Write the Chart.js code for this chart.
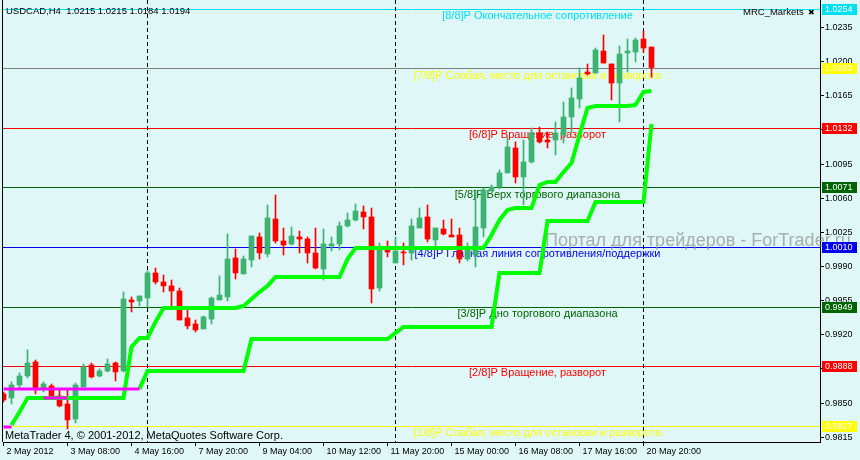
<!DOCTYPE html>
<html>
<head>
<meta charset="utf-8">
<script src="https://cdn.jsdelivr.net/npm/chart.js@4.4.1/dist/chart.umd.min.js"></script>
<style>
html, body { margin: 0; padding: 0; background: #E0F7F7; }
canvas { display: block; }
</style>
</head>
<body>
<canvas id="chart" width="860" height="460"></canvas>
<script>
// USDCAD H4 candles, one entry per bar (index 0 = 2 May 2012 00:00)
const opens = [0.98594, 0.98553, 0.98686, 0.98778, 0.98922, 0.98645, 0.98676, 0.98573, 0.98491, 0.98337,
    0.98665, 0.98891, 0.98778, 0.98829, 0.98911, 0.98829, 0.99557, 0.99547, 0.99578, 0.99834,
    0.99742, 0.99701, 0.99649, 0.99373, 0.99311, 0.99260, 0.99362, 0.99557, 0.99588, 0.99988,
    0.99824, 0.99967, 1.00203, 1.00029, 1.00387, 1.00162, 1.00131, 1.00203, 1.00182, 1.00039,
    0.99875, 1.00111, 1.00131, 1.00316, 1.00377, 1.00459, 1.00408, 0.99680, 1.00100, 0.99936,
    1.00049, 1.00039, 1.00295, 1.00408, 1.00172, 1.00285, 1.00223, 1.00223, 0.99977, 1.00018,
    1.00295, 1.00674, 1.00715, 1.00859, 1.01115, 1.00818, 1.00972, 1.01269, 1.01197, 1.01197,
    1.01248, 1.01433, 1.01617, 1.01894, 1.01884, 1.02109, 1.01976, 1.01781, 1.02089, 1.02099,
    1.02232, 1.0215];
const highs = [0.98614, 0.98717, 0.98809, 0.99045, 0.98942, 0.98717, 0.98696, 0.98635, 0.98645, 0.98706,
    0.98901, 0.98911, 0.98850, 0.98952, 0.98922, 0.99639, 0.99588, 0.99598, 0.99854, 0.99885,
    0.99813, 0.99762, 0.99680, 0.99475, 0.99352, 0.99393, 0.99588, 0.99803, 1.00234, 1.00080,
    1.00008, 1.00213, 1.00244, 1.00531, 1.00633, 1.00295, 1.00305, 1.00264, 1.00203, 1.00295,
    1.00285, 1.00203, 1.00357, 1.00449, 1.00541, 1.00521, 1.00500, 1.00141, 1.00162, 1.00203,
    1.00141, 1.00387, 1.00500, 1.00531, 1.00295, 1.00377, 1.00387, 1.00295, 1.00141, 1.00685,
    1.00705, 1.00736, 1.00890, 1.01228, 1.01177, 1.01197, 1.01320, 1.01330, 1.01279, 1.01382,
    1.01587, 1.01730, 1.01935, 1.01976, 1.02140, 1.02273, 1.01976, 1.02161, 1.02232, 1.02243,
    1.02314, 1.0215];
const lows = [0.98512, 0.98491, 0.98645, 0.98758, 0.98594, 0.98614, 0.98563, 0.98460, 0.98235, 0.98296,
    0.98665, 0.98758, 0.98768, 0.98819, 0.98727, 0.98819, 0.99434, 0.99496, 0.99485, 0.99721,
    0.99639, 0.99485, 0.99352, 0.99260, 0.99229, 0.99260, 0.99311, 0.99557, 0.99547, 0.99772,
    0.99824, 0.99895, 0.99977, 0.99998, 1.00141, 1.00018, 1.00121, 1.00039, 0.99936, 0.99875,
    0.99762, 1.00059, 1.00070, 1.00305, 1.00367, 1.00285, 0.99526, 0.99649, 0.99998, 0.99936,
    0.99916, 0.99967, 1.00295, 1.00152, 1.00111, 1.00223, 1.00203, 0.99936, 0.99957, 0.99895,
    1.00203, 1.00674, 1.00695, 1.00859, 1.00756, 1.00531, 1.00961, 1.01166, 1.01115, 1.01043,
    1.01166, 1.01269, 1.01525, 1.01863, 1.01884, 1.01986, 1.01607, 1.01382, 1.01894, 1.01997,
    1.02099, 1.0184];
const closes = [0.98532, 0.98686, 0.98778, 0.98911, 0.98645, 0.98696, 0.98573, 0.98471, 0.98327, 0.98686,
    0.98870, 0.98768, 0.98829, 0.98901, 0.98819, 0.99567, 0.99537, 0.99598, 0.99834, 0.99742,
    0.99701, 0.99649, 0.99352, 0.99291, 0.99250, 0.99383, 0.99578, 0.99608, 0.99977, 0.99834,
    0.99977, 1.00213, 1.00039, 1.00398, 1.00162, 1.00121, 1.00213, 1.00182, 1.00039, 0.99885,
    1.00131, 1.00131, 1.00316, 1.00377, 1.00469, 1.00408, 0.99670, 1.00100, 1.00049, 1.00059,
    1.00039, 1.00316, 1.00398, 1.00182, 1.00295, 1.00234, 1.00203, 0.99977, 1.00070, 1.00305,
    1.00685, 1.00715, 1.00859, 1.01125, 1.00818, 1.00972, 1.01269, 1.01177, 1.01177, 1.01269,
    1.01433, 1.01628, 1.01833, 1.01874, 1.02120, 1.01986, 1.01781, 1.02079, 1.02109, 1.02222,
    1.02140, 1.0194];

// Trailing stop lines (lime) and the magenta segments
const trendUpper = [null, 0.98276, 0.98409, 0.98553, 0.98553, 0.98553, 0.98553, 0.98553, 0.98553, 0.98553,
    0.98553, 0.98553, 0.98553, 0.98553, 0.98553, 0.98553, 0.99075, 0.99168, 0.99168, 0.99332,
    0.99475, 0.99475, 0.99475, 0.99475, 0.99475, 0.99475, 0.99475, 0.99475, 0.99475, 0.99475,
    0.99496, 0.99567, 0.99639, 0.99701, 0.99793, 0.99793, 0.99793, 0.99793, 0.99793, 0.99793,
    0.99793, 0.99793, 0.99793, 0.99977, 1.0009, 1.0009, 1.0009, 1.0009, 1.0009, 1.0009,
    1.0009, 1.0009, 1.0009, 1.0009, 1.0009, 1.0009, 1.0009, 1.0009, 1.0009, 1.0009,
    1.0009, 1.00223, 1.00377, 1.0048, 1.0050, 1.0050, 1.0050, 1.00736, 1.00767, 1.00767,
    1.00869, 1.00961, 1.01248, 1.01525, 1.01546, 1.01546, 1.01546, 1.01546, 1.01546, 1.01556,
    1.01689, 1.01699];
const trendLower = [null, null, null, null, null, null, null, null, null, null,
    null, null, null, null, null, null, null, 0.98645, 0.98829, 0.98829,
    0.98829, 0.98829, 0.98829, 0.98829, 0.98829, 0.98829, 0.98829, 0.98829, 0.98829, 0.98829,
    0.98829, 0.99157, 0.99157, 0.99157, 0.99157, 0.99157, 0.99157, 0.99157, 0.99157, 0.99157,
    0.99157, 0.99157, 0.99157, 0.99157, 0.99157, 0.99157, 0.99157, 0.99157, 0.99157, 0.99219,
    0.99280, 0.99280, 0.99280, 0.99280, 0.99280, 0.99280, 0.99280, 0.99280, 0.99280, 0.99280,
    0.99280, 0.99280, 0.99834, 0.99834, 0.99834, 0.99834, 0.99834, 0.99834, 1.00367, 1.00367,
    1.00367, 1.00367, 1.00367, 1.00367, 1.00562, 1.00562, 1.00562, 1.00562, 1.00562, 1.00562,
    1.00562, 1.01361];
const magentaTop = [0.98645, 0.98645, 0.98645, 0.98645, 0.98645, 0.98645, 0.98645, 0.98645, 0.98645,
    0.98645, 0.98645, 0.98645, 0.98645, 0.98645, 0.98645, 0.98645, 0.98645, 0.98645];
const magentaMid = [null, null, null, null, null, 0.98553, 0.98553, 0.98553, 0.98553];
const magentaLow = [0.98255, 0.98255];

// Axis ticks
const timeTickBars = [0, 8, 16, 24, 32, 40, 48, 56, 64, 72, 80];
const timeTickLabels = ['2 May 2012', '3 May 08:00', '4 May 16:00', '7 May 20:00', '9 May 04:00',
    '10 May 12:00', '11 May 20:00', '15 May 00:00', '16 May 08:00', '17 May 16:00', '20 May 20:00'];
const priceTicks = ['0.9815', '0.9850', '0.9885', '0.9920', '0.9955', '0.9990', '1.0025',
    '1.0060', '1.0095', '1.0130', '1.0165', '1.0200', '1.0235'];

// Murrey Math levels
const levelValues = [1.0254, 1.0193, 1.0132, 1.0071, 1.0010, 0.9949, 0.9888, 0.9827];
const levelTexts = [
    '[8/8]P Окончательное сопротивление',
    '[7/8]P Слабая, место для остановки и разворота',
    '[6/8]P Вращение, разворот',
    '[5/8]P Верх торгового диапазона',
    '[4/8]P Главная линия сопротивления/поддержки',
    '[3/8]P Дно торгового диапазона',
    '[2/8]P Вращение, разворот',
    '[1/8]P Слабая, место для остановки и разворота'
];
const levelColors = ['#00E0F4', '#FFFF00', '#FF0000', '#006400', '#0000EE', '#006400', '#FF0000', '#FFFF00'];
const bidPrice = 1.0194;
const separatorBars = [18, 49, 80];

const BG = '#E0F7F7';
const FONT = '"Liberation Sans", Arial, sans-serif';

const barIndex = opens.map((_, i) => i);
const candleColors = barIndex.map(i => closes[i] >= opens[i] ? '#3CB371' : '#FF0000');
const toPoints = arr => arr.map((v, i) => ({ x: i, y: v }));

function lineSet(values, color, width, order) {
    return {
        type: 'line',
        data: toPoints(values),
        borderColor: color,
        borderWidth: width,
        pointRadius: 0,
        fill: false,
        tension: 0,
        spanGaps: false,
        order: order
    };
}

const mt4Plugin = {
    id: 'mt4',
    beforeDraw(chart) {
        const ctx = chart.ctx;
        ctx.save();
        ctx.fillStyle = BG;
        ctx.fillRect(0, 0, chart.width, chart.height);
        ctx.restore();
    },
    beforeDatasetsDraw(chart) {
        const { ctx, chartArea: area, scales: { x, y } } = chart;
        ctx.save();
        ctx.lineWidth = 1;

        // level lines
        levelValues.forEach((v, k) => {
            const py = Math.round(y.getPixelForValue(v)) + 0.5;
            ctx.strokeStyle = levelColors[k];
            ctx.beginPath();
            ctx.moveTo(area.left, py);
            ctx.lineTo(area.right, py);
            ctx.stroke();
        });

        // bid line
        const by = Math.round(y.getPixelForValue(bidPrice)) + 0.5;
        ctx.strokeStyle = '#808080';
        ctx.beginPath();
        ctx.moveTo(area.left, by);
        ctx.lineTo(area.right, by);
        ctx.stroke();

        // period separators
        ctx.strokeStyle = '#000';
        ctx.setLineDash([4, 3]);
        separatorBars.forEach(b => {
            const px = Math.floor(x.getPixelForValue(b)) + 0.5;
            ctx.beginPath();
            ctx.moveTo(px, area.top);
            ctx.lineTo(px, area.bottom);
            ctx.stroke();
        });
        ctx.setLineDash([]);

        // level captions
        ctx.font = '11px ' + FONT;
        ctx.textAlign = 'center';
        ctx.textBaseline = 'middle';
        const cx = x.getPixelForValue(66.75);
        levelValues.forEach((v, k) => {
            ctx.fillStyle = levelColors[k];
            ctx.fillText(levelTexts[k], cx, y.getPixelForValue(v) + 7);
        });

        // watermark
        ctx.font = '18px ' + FONT;
        ctx.textAlign = 'left';
        ctx.textBaseline = 'alphabetic';
        ctx.fillStyle = 'rgba(150, 150, 150, 0.75)';
        ctx.fillText('Портал для трейдеров - ForTrader.ru', 545, 246);
        ctx.restore();
    },
    afterDatasetsDraw(chart) {
        const { ctx, chartArea: area, scales: { y } } = chart;
        ctx.save();

        // price boxes on the right scale
        ctx.font = '9px ' + FONT;
        ctx.textAlign = 'left';
        ctx.textBaseline = 'middle';
        levelValues.forEach((v, k) => {
            const py = Math.round(y.getPixelForValue(v));
            ctx.fillStyle = levelColors[k];
            ctx.fillRect(area.right + 2, py - 5, 35, 11);
            ctx.fillStyle = '#FFFFFF';
            ctx.fillText(v.toFixed(4), area.right + 5, py + 0.5);
        });

        // left frame
        ctx.fillStyle = '#000';
        ctx.fillRect(area.left - 1, area.top, 1, area.bottom - area.top);

        // header and footer texts
        const last = opens.length - 1;
        ctx.textBaseline = 'alphabetic';
        ctx.font = '9.5px ' + FONT;
        ctx.fillText('USDCAD,H4  ' + opens[last].toFixed(4) + ' ' + highs[last].toFixed(4) + ' ' +
            lows[last].toFixed(4) + ' ' + closes[last].toFixed(4), 6, 14);
        ctx.fillText('MRC_Markets', 743, 15);
        ctx.font = '8px "DejaVu Sans"';
        ctx.fillText('✖', 808, 15);
        ctx.font = '11px ' + FONT;
        ctx.fillText('MetaTrader 4, © 2001-2012, MetaQuotes Software Corp.', 5, 439);
        ctx.restore();
    }
};

const axisGrid = {
    display: true,
    drawOnChartArea: false,
    drawTicks: true,
    tickLength: 4,
    color: '#000',
    tickColor: '#000',
    offset: false
};

new Chart(document.getElementById('chart'), {
    type: 'bar',
    data: {
        datasets: [
            lineSet(magentaTop, '#FF00FF', 3, 0),
            lineSet(magentaMid, '#FF00FF', 3, 0),
            lineSet(magentaLow, '#FF00FF', 3, 0),
            lineSet(trendUpper, '#00FF00', 4, 1),
            lineSet(trendLower, '#00FF00', 4, 1),
            {
                data: barIndex.map(i => ({ x: i, y: [opens[i], closes[i]] })),
                backgroundColor: candleColors,
                borderWidth: 0,
                barThickness: 5,
                minBarLength: 1,
                grouped: false,
                order: 2
            },
            {
                data: barIndex.map(i => ({ x: i, y: [lows[i], highs[i]] })),
                backgroundColor: candleColors,
                borderWidth: 0,
                barThickness: 1,
                grouped: false,
                order: 3
            }
        ]
    },
    options: {
        responsive: false,
        animation: false,
        layout: { padding: { left: 3, right: 0, top: 0, bottom: 0 } },
        plugins: {
            legend: { display: false },
            tooltip: { enabled: false }
        },
        scales: {
            x: {
                type: 'linear',
                min: -0.0625,
                max: 102.0625,
                offset: false,
                grid: axisGrid,
                border: { display: true, color: '#000', width: 1 },
                ticks: {
                    autoSkip: false,
                    maxRotation: 0,
                    align: 'start',
                    labelOffset: 3,
                    padding: 0,
                    color: '#000',
                    font: { family: FONT, size: 9 },
                    callback: (value, index) => timeTickLabels[index]
                },
                afterBuildTicks: scale => {
                    scale.ticks = timeTickBars.map(v => ({ value: v }));
                },
                afterFit: scale => {
                    scale.height = 18;
                    scale.paddingLeft = 0;
                    scale.paddingRight = 0;
                }
            },
            y: {
                position: 'right',
                min: 0.98101,
                max: 1.02632,
                grid: axisGrid,
                border: { display: true, color: '#000', width: 1 },
                ticks: {
                    padding: 1,
                    color: '#000',
                    font: { family: FONT, size: 9 },
                    callback: (value, index) => priceTicks[index]
                },
                afterBuildTicks: scale => {
                    scale.ticks = priceTicks.map(t => ({ value: parseFloat(t) }));
                },
                afterFit: scale => {
                    scale.width = 40;
                    scale.paddingTop = 0;
                    scale.paddingBottom = 0;
                }
            }
        }
    },
    plugins: [mt4Plugin]
});
</script>
</body>
</html>
